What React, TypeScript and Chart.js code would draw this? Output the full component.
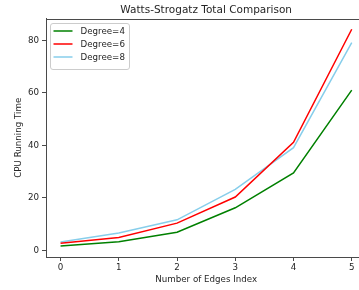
import React, { useEffect, useRef } from 'react';
import { Chart, registerables } from 'chart.js';

Chart.register(...registerables);

const chartTitle = 'Watts-Strogatz Total Comparison';
const xAxisLabel = 'Number of Edges Index';
const yAxisLabel = 'CPU Running Time';

const edgeIndex = [0, 1, 2, 3, 4, 5];
const degree4 = [1.6, 3.3, 6.9, 16.2, 29.5, 61.0];
const degree6 = [2.65, 4.9, 10.35, 20.3, 41.1, 84.2];
const degree8 = [3.2, 6.6, 11.6, 23.2, 39.1, 79.1];
const seriesNames = ['Degree=4', 'Degree=6', 'Degree=8'];
const seriesColors = ['#008000', '#ff0000', '#87ceeb'];
const xTicks = [0, 1, 2, 3, 4, 5];
const yTicks = [0, 20, 40, 60, 80];

const FONT = '"DejaVu Sans", sans-serif';
const TEXT = '#262626';
const SPINE = '#4a4a4a';
const CANVAS_W = 372;
const CANVAS_H = 290;

const decorPlugin = {
  id: 'decor',
  afterDraw(chart: any) {
    const { ctx, chartArea: a } = chart;
    ctx.save();
    // top & right spines
    ctx.strokeStyle = SPINE;
    ctx.lineWidth = 1;
    ctx.beginPath();
    ctx.moveTo(a.left, Math.round(a.top) + 0.5);
    ctx.lineTo(a.right, Math.round(a.top) + 0.5);
    ctx.lineTo(a.right, a.bottom);
    ctx.stroke();

    // title
    ctx.fillStyle = TEXT;
    ctx.font = `10.5px ${FONT}`;
    ctx.textAlign = 'center';
    ctx.textBaseline = 'alphabetic';
    ctx.fillText(chartTitle, (a.left + a.right) / 2, 12.7);

    // legend
    const bx = a.left + 4.5;
    const by = a.top + 5;
    const bw = 79;
    const bh = 46;
    ctx.beginPath();
    ctx.roundRect(bx, by, bw, bh, 2.5);
    ctx.fillStyle = 'rgba(255,255,255,0.8)';
    ctx.fill();
    ctx.strokeStyle = '#cccccc';
    ctx.lineWidth = 1;
    ctx.stroke();

    ctx.font = `8.7px ${FONT}`;
    ctx.textAlign = 'left';
    ctx.textBaseline = 'middle';
    seriesNames.forEach((name, i) => {
      const y = by + 7.5 + i * 13;
      ctx.strokeStyle = seriesColors[i];
      ctx.lineWidth = 1.5;
      ctx.beginPath();
      ctx.moveTo(bx + 3, y);
      ctx.lineTo(bx + 22, y);
      ctx.stroke();
      ctx.fillStyle = TEXT;
      ctx.fillText(name, bx + 30, y + 0.5);
    });
    ctx.restore();
  },
};

export default function App() {
  const canvasRef = useRef<HTMLCanvasElement | null>(null);

  useEffect(() => {
    const canvas = canvasRef.current;
    if (!canvas) return;
    const seriesData = [degree4, degree6, degree8];
    const chart = new Chart(canvas, {
      type: 'line',
      data: {
        datasets: seriesData.map((vals, i) => ({
          label: seriesNames[i],
          data: edgeIndex.map((x, j) => ({ x, y: vals[j] })),
          borderColor: seriesColors[i],
          backgroundColor: seriesColors[i],
          borderWidth: 1.5,
          pointRadius: 0,
          tension: 0,
          fill: false,
        })),
      },
      options: {
        responsive: false,
        animation: false,
        devicePixelRatio: 1,
        layout: { padding: { top: 18.5, right: CANVAS_W - 366.3, left: 0, bottom: 0 } },
        plugins: {
          legend: { display: false },
          title: { display: false },
          tooltip: { enabled: false },
        },
        scales: {
          x: {
            type: 'linear',
            min: -0.25,
            max: 5.25,
            afterBuildTicks: (s: any) => {
              s.ticks = xTicks.map((v) => ({ value: v }));
            },
            afterFit: (s: any) => {
              s.height = CANVAS_H - 257;
            },
            grid: { drawOnChartArea: false, drawTicks: true, tickLength: 4, color: SPINE },
            border: { display: true, color: SPINE, width: 1 },
            ticks: {
              color: TEXT,
              font: { family: FONT, size: 8.7 },
              padding: 1.5,
              maxRotation: 0,
              callback: (v: any) => String(v),
            },
            title: {
              display: true,
              text: xAxisLabel,
              color: TEXT,
              font: { family: FONT, size: 8.7 },
              padding: { top: 0, bottom: 5.5 },
            },
          },
          y: {
            type: 'linear',
            min: -2.55,
            max: 88.3,
            afterBuildTicks: (s: any) => {
              s.ticks = yTicks.map((v) => ({ value: v }));
            },
            afterFit: (s: any) => {
              s.width = 46;
            },
            grid: { drawOnChartArea: false, drawTicks: true, tickLength: 4, color: SPINE },
            border: { display: true, color: SPINE, width: 1 },
            ticks: {
              color: TEXT,
              font: { family: FONT, size: 8.7 },
              padding: 3,
              callback: (v: any) => String(v),
            },
            title: {
              display: true,
              text: yAxisLabel,
              color: TEXT,
              font: { family: FONT, size: 8.7 },
              padding: { top: 13.5, bottom: 0 },
            },
          },
        },
      },
      plugins: [decorPlugin],
    });
    return () => chart.destroy();
  }, []);

  return (
    <div
      style={{
        position: 'absolute',
        left: 0,
        top: 0,
        width: 359,
        height: 290,
        overflow: 'hidden',
        background: '#fff',
      }}
    >
      <canvas
        ref={canvasRef}
        width={CANVAS_W}
        height={CANVAS_H}
        style={{ width: CANVAS_W, height: CANVAS_H, display: 'block' }}
      />
    </div>
  );
}
